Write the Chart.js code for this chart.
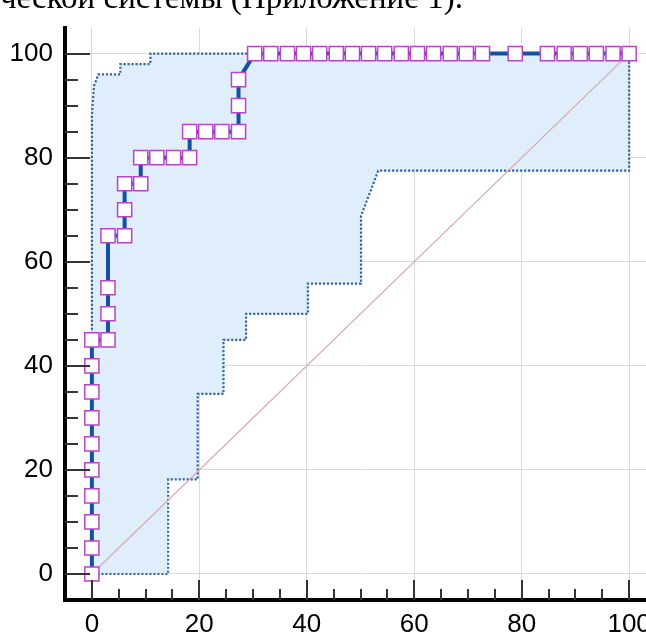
<!DOCTYPE html>
<html>
<head>
<meta charset="utf-8">
<script src="https://cdn.jsdelivr.net/npm/chart.js@4.4.1/dist/chart.umd.min.js"></script>
<style>
  html, body { margin: 0; padding: 0; background: #fff; overflow: hidden; }
  #wrap { position: relative; width: 646px; height: 637px; overflow: hidden; }
  #caption {
    position: absolute; left: 0; top: -19px; white-space: nowrap;
    font: 33px/33px 'Liberation Serif', 'Times New Roman', serif; color: #000;
  }
  #roc { position: absolute; left: 0; top: 0; }
</style>
</head>
<body>
<div id="wrap">
  <canvas id="roc" width="680" height="637"></canvas>
  <div id="caption">ческой системы (Приложение 1).</div>
</div>
<script>
// ROC curve (100-specificity vs sensitivity)
const rocX = [0, 0, 0, 0, 0, 0, 0, 0, 0, 0,
  3.0, 3.0, 3.0, 3.0, 6.1, 6.1, 6.1, 9.1, 9.1,
  12.1, 15.2, 18.2, 18.2, 21.2, 24.2, 27.3, 27.3, 27.3,
  30.3, 33.3, 36.4, 39.4, 42.4, 45.5, 48.5, 51.5, 54.5, 57.6, 60.6,
  63.6, 66.7, 69.7, 72.7, 78.8, 84.8, 87.9, 90.9, 93.9, 97.0, 100];
const rocY = [0, 5, 10, 15, 20, 25, 30, 35, 40, 45,
  45, 50, 55, 65, 65, 70, 75, 75, 80,
  80, 80, 80, 85, 85, 85, 85, 90, 95,
  100, 100, 100, 100, 100, 100, 100, 100, 100, 100, 100,
  100, 100, 100, 100, 100, 100, 100, 100, 100, 100, 100];

// 95% confidence band outline (upper edge, then lower edge back)
const bandX = [0, 0, 0.4, 1.2, 5.3, 5.3, 10.9, 10.9, 100, 100, 53.3, 50.1, 50.1,
  40.2, 40.2, 28.7, 28.7, 24.5, 24.5, 19.7, 19.7, 14.2, 14.2, 0];
const bandY = [0, 88.1, 93.8, 96.0, 96.0, 98.0, 98.0, 100, 100, 77.5, 77.5, 68.8, 55.8,
  55.8, 50, 50, 45, 45, 34.6, 34.6, 18.2, 18.2, 0, 0];

// chance line
const diagX = [0, 100];
const diagY = [0, 100];

const tickLabels = [0, 20, 40, 60, 80, 100];
const minorTicks = [5, 10, 15, 25, 30, 35, 45, 50, 55, 65, 70, 75, 85, 90, 95];

const zip = (xs, ys) => xs.map((x, i) => ({ x: x, y: ys[i] }));

// tick marks pointing into the plot
const innerTicks = {
  id: 'innerTicks',
  afterDraw(chart) {
    const { ctx, chartArea, scales } = chart;
    ctx.save();
    ctx.strokeStyle = '#333';
    ctx.lineWidth = 2;
    ctx.beginPath();
    tickLabels.concat(minorTicks).forEach(v => {
      const major = tickLabels.includes(v);
      const px = Math.round(scales.x.getPixelForValue(v));
      ctx.moveTo(px, chartArea.bottom);
      ctx.lineTo(px, chartArea.bottom - (major ? 20 : 11));
      const py = Math.round(scales.y.getPixelForValue(v));
      ctx.moveTo(chartArea.left, py);
      ctx.lineTo(chartArea.left + (major ? 25 : 13), py);
    });
    ctx.stroke();
    ctx.restore();
  }
};

const tickFont = { family: "'Liberation Sans', Arial, sans-serif", size: 26 };

new Chart(document.getElementById('roc'), {
  type: 'scatter',
  data: {
    datasets: [
      {
        data: zip(rocX, rocY),
        showLine: true,
        borderColor: '#1452a0',
        borderWidth: 4,
        pointStyle: 'rect',
        pointRadius: 10,
        pointBackgroundColor: '#fff',
        pointBorderColor: '#b545c5',
        pointBorderWidth: 1.5
      },
      {
        data: zip(diagX, diagY),
        showLine: true,
        borderColor: '#d7a8b0',
        borderWidth: 1.2,
        pointRadius: 0
      },
      {
        data: zip(bandX, bandY),
        showLine: true,
        fill: 'shape',
        backgroundColor: '#e0eefc',
        borderColor: '#34679f',
        borderWidth: 2.2,
        borderDash: [2.2, 1.8],
        pointRadius: 0
      }
    ]
  },
  options: {
    responsive: false,
    animation: false,
    layout: { padding: { left: 0, top: 13, right: 24, bottom: 0 } },
    plugins: { legend: { display: false }, tooltip: { enabled: false } },
    scales: {
      x: {
        type: 'linear', min: -5, max: 105,
        afterFit: s => { s.height = 37; },
        afterBuildTicks: s => { s.ticks = tickLabels.map(v => ({ value: v })); },
        grid: { color: '#dadada', lineWidth: 1, drawTicks: false },
        border: { color: '#000', width: 4 },
        ticks: { font: tickFont, color: '#000', padding: 9, maxRotation: 0 }
      },
      y: {
        type: 'linear', min: -5, max: 105,
        afterFit: s => { s.width = 65; },
        afterBuildTicks: s => { s.ticks = tickLabels.map(v => ({ value: v })); },
        grid: { color: '#dadada', lineWidth: 1, drawTicks: false },
        border: { color: '#000', width: 4 },
        ticks: { font: tickFont, color: '#000', padding: 12 }
      }
    }
  },
  plugins: [innerTicks]
});
</script>
</body>
</html>
